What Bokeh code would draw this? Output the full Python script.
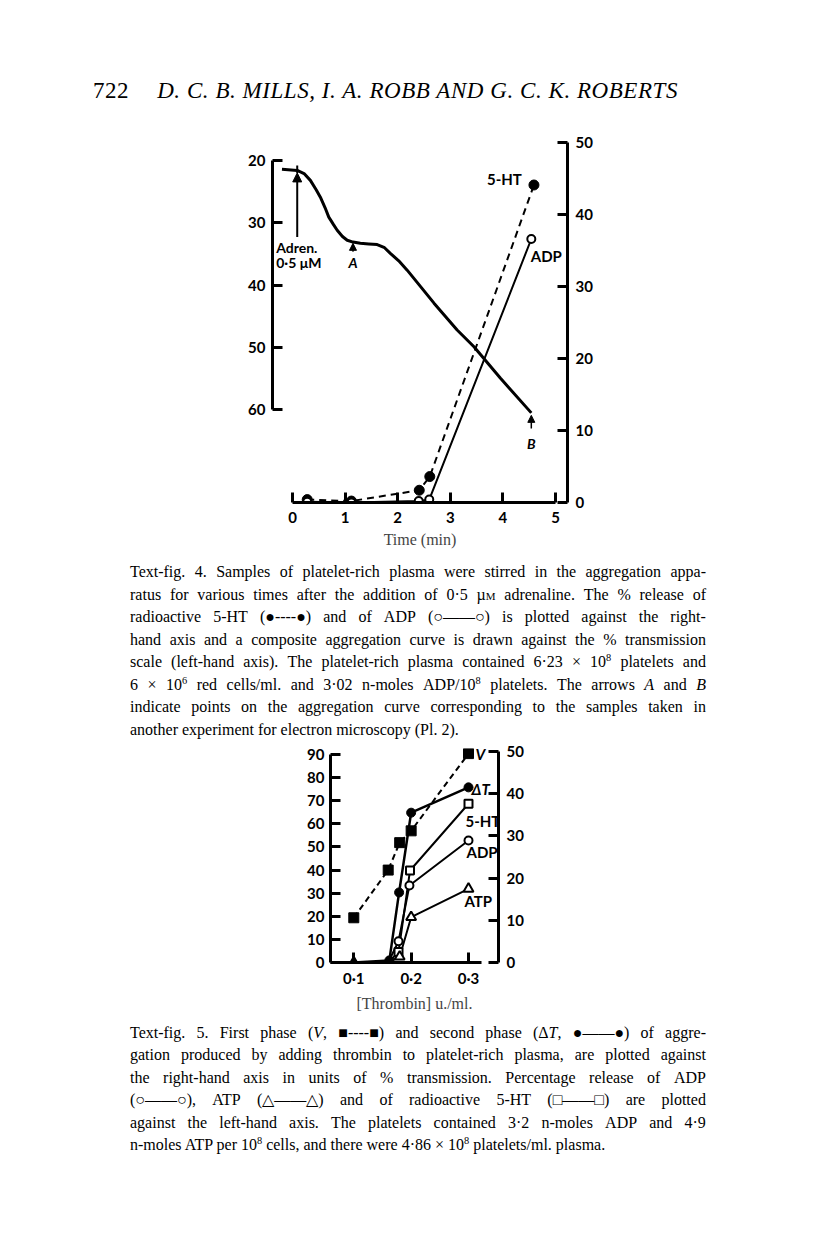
import math
import re
from bokeh.plotting import figure
from bokeh.models import (Range1d, LinearAxis, FixedTicker, Label, Arrow, NormalHead,
                          Div, CustomJSTickFormatter)
from bokeh.embed import file_html
from bokeh.resources import INLINE

# ---------------- Text-fig. 4 data ----------------
time_ticks = [0, 1, 2, 3, 4, 5]
trans_ticks = [20, 30, 40, 50, 60]
release_ticks = [0, 10, 20, 30, 40, 50]

ht_time = [0.28, 1.12, 2.41, 2.61, 4.59]
ht_release = [0.4, 0.2, 1.7, 3.6, 44.1]

adp_time = [0.28, 1.12, 2.40, 2.60, 4.54]
adp_release = [0.1, 0.0, 0.2, 0.4, 36.6]

curve_time = [-0.20, 0.09, 0.22, 0.34, 0.45, 0.53, 0.62, 0.69, 0.78, 0.85, 0.95, 1.04,
              1.15, 1.29, 1.45, 1.61, 1.75, 1.86, 2.02, 2.18, 2.69, 3.13, 3.45, 3.95, 4.54]
curve_trans = [21.4, 21.6, 22.1, 23.2, 24.7, 25.9, 27.6, 29.1, 30.3, 31.2, 32.2, 32.8,
               33.1, 33.3, 33.4, 33.5, 34.0, 34.9, 36.1, 37.6, 42.9, 47.2, 49.9, 54.9, 60.5]

# ---------------- Text-fig. 5 data ----------------
thr_ticks = [0.1, 0.2, 0.3]
rel5_ticks = [0, 10, 20, 30, 40, 50, 60, 70, 80, 90]
trans5_ticks = [0, 10, 20, 30, 40, 50]

v_x = [0.10, 0.16, 0.18, 0.20, 0.30]
v_trans = [10.6, 21.9, 28.4, 31.2, 49.5]

dt_x = [0.10, 0.162, 0.179, 0.20, 0.30]
dt_trans = [0.0, 0.5, 16.6, 35.5, 41.5]

ht5_x = [0.10, 0.16, 0.178, 0.198, 0.30]
ht5_rel = [0.0, 0.0, 4.5, 39.8, 68.7]

adp5_x = [0.10, 0.16, 0.178, 0.197, 0.30]
adp5_rel = [0.0, 0.0, 9.2, 33.3, 52.8]

atp5_x = [0.10, 0.16, 0.18, 0.20, 0.30]
atp5_rel = [0.0, 0.0, 2.5, 19.6, 31.9]

SANS = "Lato"
SERIF = "Liberation Serif"


def style_axis(ax, ticks, standoff=6):
    ax.ticker = FixedTicker(ticks=ticks)
    ax.axis_line_width = 3
    ax.axis_line_color = "black"
    ax.major_tick_line_width = 3
    ax.major_tick_line_color = "black"
    ax.major_tick_in = 10
    ax.major_tick_out = 0
    ax.minor_tick_line_color = None
    ax.major_label_text_font = SANS
    ax.major_label_text_font_style = "bold"
    ax.major_label_text_font_size = "15px"
    ax.major_label_text_color = "black"
    ax.major_label_standoff = standoff


def lab(p, x, y, text, align="left", style="bold", size="14px", font=SANS, angle=0.0,
        rng=None):
    kw = dict(x=x, y=y, text=text, text_align=align, text_baseline="middle",
              text_font=font, text_font_style=style, text_font_size=size,
              text_color="black", angle=angle)
    if rng:
        kw["y_range_name"] = rng
    p.add_layout(Label(**kw))


# ================= Figure 4 =================
p4 = figure(width=800, height=430, output_backend="svg", toolbar_location=None,
            x_range=Range1d(-0.38, 5.228), y_range=Range1d(74.88, 16.8),
            min_border_left=272, min_border_right=233, min_border_top=20, min_border_bottom=47)
p4.extra_y_ranges = {"rel": Range1d(0, 50.28)}
p4.grid.visible = False
p4.outline_line_color = None
p4.background_fill_color = "white"
p4.border_fill_color = "white"

style_axis(p4.xaxis[0], time_ticks, standoff=9)
p4.xaxis[0].bounds = (0, 5)
p4.xaxis[0].axis_label = "Time (min)"
p4.xaxis[0].axis_label_text_font = SERIF
p4.xaxis[0].axis_label_text_font_style = "normal"
p4.xaxis[0].axis_label_text_font_size = "16px"
p4.xaxis[0].axis_label_standoff = 5

style_axis(p4.yaxis[0], trans_ticks, standoff=7)
p4.yaxis[0].bounds = (20, 60)

rax4 = LinearAxis(y_range_name="rel")
style_axis(rax4, release_ticks, standoff=8)
rax4.bounds = (0, 50)
p4.add_layout(rax4, "right")

p4.line(curve_time, curve_trans, line_width=3, color="black")
p4.line(ht_time, ht_release, y_range_name="rel", line_width=2, line_dash="7 5", color="black")
p4.scatter(ht_time, ht_release, y_range_name="rel", marker="circle", size=10,
           fill_color="black", line_color="black")
p4.line(adp_time, adp_release, y_range_name="rel", line_width=2, color="black")
p4.scatter(adp_time, adp_release, y_range_name="rel", marker="circle", size=8,
           fill_color="white", line_color="black", line_width=2)

p4.add_layout(Arrow(end=NormalHead(size=9, fill_color="black", line_color="black"),
                    x_start=0.09, y_start=32.3, x_end=0.09, y_end=22.0, line_width=2))
p4.segment(x0=[0.09], y0=[22.0], x1=[0.09], y1=[20.8], line_width=2, color="black")
p4.add_layout(Arrow(end=NormalHead(size=7, fill_color="black", line_color="black"),
                    x_start=1.15, y_start=34.6, x_end=1.15, y_end=33.3, line_width=2))
p4.add_layout(Arrow(end=NormalHead(size=7, fill_color="black", line_color="black"),
                    x_start=4.54, y_start=63.0, x_end=4.54, y_end=60.9, line_width=1.5))

lab(p4, -0.31, 33.9, "Adren.")
lab(p4, -0.31, 36.3, "0·5 μM")
lab(p4, 1.15, 36.4, "A", align="center", style="bold italic")
lab(p4, 4.54, 65.4, "B", align="center", style="bold italic")
lab(p4, 4.36, 45.0, "5-HT", align="right", size="15px", rng="rel")
lab(p4, 4.53, 34.2, "ADP", size="15px", rng="rel")
lab(p4, -0.99, 40.0, "Transmission (%)", align="center", style="normal", size="16px",
    font=SERIF, angle=math.pi / 2)
lab(p4, 6.05, 25.6, "Release (%)", align="center", style="normal", size="16px",
    font=SERIF, angle=math.pi / 2, rng="rel")

# ================= Figure 5 =================
p5 = figure(width=800, height=275, output_backend="svg", toolbar_location=None,
            x_range=Range1d(0.0594, 0.3523), y_range=Range1d(0, 92.6),
            min_border_left=330, min_border_right=302, min_border_top=8, min_border_bottom=53)
p5.extra_y_ranges = {"tr": Range1d(0, 50.71)}
p5.grid.visible = False
p5.outline_line_color = None
p5.background_fill_color = "white"
p5.border_fill_color = "white"

style_axis(p5.xaxis[0], thr_ticks, standoff=6)
p5.xaxis[0].bounds = (0.0594, 0.322)
p5.xaxis[0].formatter = CustomJSTickFormatter(code="return tick.toFixed(1).replace('.', '\u00b7');")
p5.xaxis[0].axis_label = "[Thrombin] u./ml."
p5.xaxis[0].axis_label_text_font = SERIF
p5.xaxis[0].axis_label_text_font_style = "normal"
p5.xaxis[0].axis_label_text_font_size = "16px"
p5.xaxis[0].axis_label_standoff = 5

style_axis(p5.yaxis[0], rel5_ticks, standoff=6)
p5.yaxis[0].bounds = (0, 90)

rax5 = LinearAxis(y_range_name="tr")
style_axis(rax5, trans5_ticks, standoff=8)
rax5.bounds = (0, 50)
p5.add_layout(rax5, "right")

p5.line(v_x, v_trans, y_range_name="tr", line_width=2, line_dash="6 4", color="black")
p5.line(dt_x, dt_trans, y_range_name="tr", line_width=2.5, color="black")
p5.line(ht5_x, ht5_rel, line_width=2, color="black")
p5.line(adp5_x, adp5_rel, line_width=2, color="black")
p5.line(atp5_x, atp5_rel, line_width=2, color="black")

p5.scatter(ht5_x[2:], ht5_rel[2:], marker="square", size=8, fill_color="white",
           line_color="black", line_width=2)
p5.scatter(adp5_x[2:], adp5_rel[2:], marker="circle", size=8, fill_color="white",
           line_color="black", line_width=2)
p5.scatter(atp5_x, atp5_rel, marker="triangle", size=10,
           fill_color=["black"] + ["white"] * (len(atp5_x) - 1),
           line_color="black", line_width=2)
p5.scatter(v_x, v_trans, y_range_name="tr", marker="square", size=10,
           fill_color="black", line_color="black")
p5.scatter(dt_x[1:], dt_trans[1:], y_range_name="tr", marker="circle", size=9,
           fill_color="black", line_color="black")

lab(p5, 0.3122, 49.3, "V", style="bold italic", size="15px", rng="tr")
lab(p5, 0.3052, 41.0, "ΔT", style="bold italic", size="15px", rng="tr")
lab(p5, 0.2948, 61.4, "5-HT", size="15px")
lab(p5, 0.2965, 47.6, "ADP", size="15px")
lab(p5, 0.2930, 26.8, "ATP", size="15px")
lab(p5, -0.0069, 41.1, "Release (%)", align="center", style="normal", size="16px",
    font=SERIF, angle=math.pi / 2)
lab(p5, 0.4256, 21.8, "Transmission (%)", align="center", style="normal", size="16px",
    font=SERIF, angle=math.pi / 2, rng="tr")

# ================= Page text =================
header = Div(width=800, height=120, margin=0, text=(
    "<div style=\"position:relative;width:800px;height:120px;\">"
    "<div style=\"position:absolute;left:93px;top:75px;font-family:'Liberation Serif';"
    "font-size:23px;letter-spacing:0.55px;white-space:nowrap;color:black;\">722"
    "<span style=\"display:inline-block;width:28px\"></span>"
    "<i>D. C. B. MILLS, I. A. ROBB AND G. C. K. ROBERTS</i></div></div>"))

SUP = "<sup style=\"line-height:0;font-size:0.65em\">%s</sup>"


def jline(ln):
    words = re.split(r' (?![^<]*>)', ln)
    return ("<div style=\"display:flex;justify-content:space-between;white-space:nowrap;\">"
            + "".join("<span>%s</span>" % w for w in words) + "</div>")


def caption(lines, top_pad, lh, h):
    inner = "".join(jline(ln) for ln in lines[:-1])
    inner += "<div style=\"white-space:nowrap;\">%s</div>" % lines[-1]
    return Div(width=800, height=h, margin=0, text=(
        "<div style=\"box-sizing:content-box;margin-left:130px;padding-top:%spx;width:576px;"
        "font-family:'Liberation Serif';font-size:16px;line-height:%spx;color:black;\">%s</div>"
        % (top_pad, lh, inner)))


SM = "<span style=\"font-variant:small-caps\">m</span>"
cap4_lines = [
    "Text-fig. 4. Samples of platelet-rich plasma were stirred in the aggregation appa-",
    "ratus for various times after the addition of 0·5 µ" + SM + " adrenaline. The % release of",
    "radioactive 5-HT (●----●) and of ADP (○——○) is plotted against the right-",
    "hand axis and a composite aggregation curve is drawn against the % transmission",
    "scale (left-hand axis). The platelet-rich plasma contained 6·23 × 10" + SUP % "8" + " platelets and",
    "6 × 10" + SUP % "6" + " red cells/ml. and 3·02 n-moles ADP/10" + SUP % "8"
    + " platelets. The arrows <i>A</i> and <i>B</i>",
    "indicate points on the aggregation curve corresponding to the samples taken in",
    "another experiment for electron microscopy (Pl. 2).",
]
cap5_lines = [
    "Text-fig. 5. First phase (<i>V</i>, ■----■) and second phase (Δ<i>T</i>, ●——●) of aggre-",
    "gation produced by adding thrombin to platelet-rich plasma, are plotted against",
    "the right-hand axis in units of % transmission. Percentage release of ADP",
    "(○——○), ATP (△——△) and of radioactive 5-HT (□——□) are plotted",
    "against the left-hand axis. The platelets contained 3·2 n-moles ADP and 4·9",
    "n-moles ATP per 10" + SUP % "8" + " cells, and there were 4·86 × 10" + SUP % "8"
    + " platelets/ml. plasma.",
]

cap4 = caption(cap4_lines, 11, 22.5, 190)
cap5 = caption(cap5_lines, 7, 22.4, 234)

p4.margin = 0
p5.margin = 0

open("out.html", "w").write(file_html([header, p4, cap4, p5, cap5], INLINE))
